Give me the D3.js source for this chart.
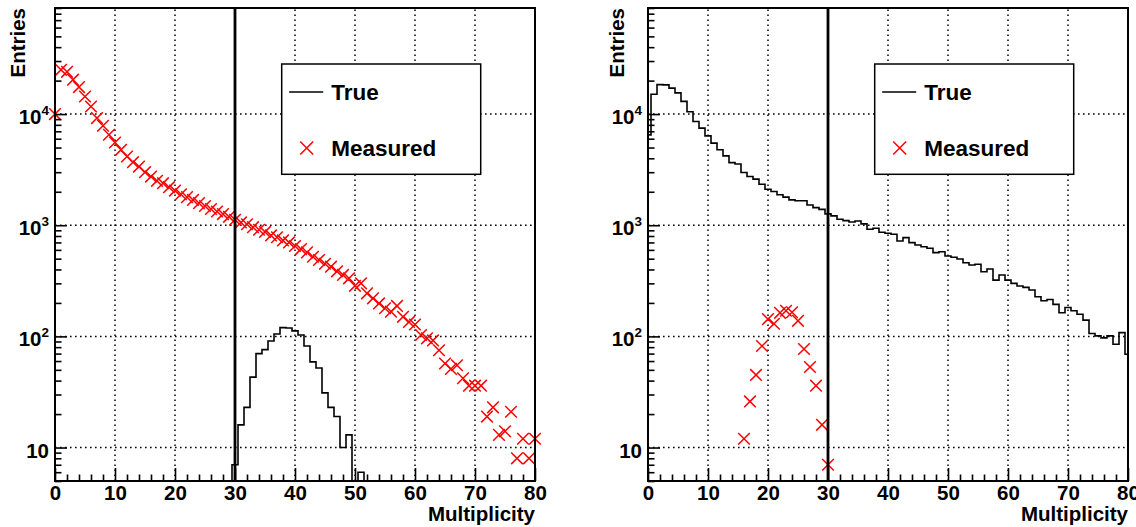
<!DOCTYPE html>
<html><head><meta charset="utf-8">
<script src="https://cdn.jsdelivr.net/npm/d3@7"></script>
<style>
body{margin:0;background:#fff;}
svg{display:block;}
text{font-family:"Liberation Sans",Arial,Helvetica,sans-serif;font-weight:bold;fill:#000;}
</style>
</head><body><svg id="c" width="1136" height="527"></svg>
<script>
// ---------- data (bin index = multiplicity 0..80) ----------
const leftMeasured = [10000,25000,24000,20400,17500,14400,11700,9200,7850,6510,
  5550,4770,4150,3690,3370,3000,2740,2510,2390,2200,
  2050,1900,1790,1690,1580,1490,1400,1330,1260,1190,
  1120,1060,1020,960,910,870,810,780,730,700,
  650,610,570,520,487,450,424,385,357,333,
  285,300,244,220,198,179,167,188,150,135,
  128,103,96,92,75,57,51,55,42,36,
  36,36,19,23,13,14,21,8,12,8,12];
const leftTrue = [0,0,0,0,0,0,0,0,0,0,
  0,0,0,0,0,0,0,0,0,0,
  0,0,0,0,0,0,0,0,0,0,
  7,16,23,43,70,76,91,105,120,119,
  112,103,82,59,52,31,23,19,10,13,
  0,6,0,0,0,0,0,0,0,0,
  0,0,0,0,0,0,0,0,0,0,
  0,0,0,0,0,0,0,0,0,0,0];
const rightTrue = [6500,15100,18400,18300,17100,15500,13000,10500,8580,7480,
  6370,5480,4770,4210,3660,3550,2980,2740,2600,2340,
  2110,2010,1880,1790,1690,1660,1660,1520,1440,1390,
  1265,1213,1132,1100,1070,1093,1028,920,940,865,
  847,830,722,773,697,664,641,620,567,578,
  529,515,497,460,439,445,382,404,321,357,
  321,300,284,276,261,227,209,215,194,163,
  182,170,158,140,106,101,97,101,85,108,69];
const rightMeasuredBins = [16,17,18,19,20,21,22,23,24,25,26,27,28,29,30];
const rightMeasured     = [12,26,45,82,143,130,163,170,165,138,77,53,36,16,7];

const xTickValues = [0,10,20,30,40,50,60,70,80];
const xTickLabels = ["0","10","20","30","40","50","60","70","80"];
const yTickValues = [10,100,1000,10000];
const yTickExponents = ["","2","3","4"];
const legendLabels = ["True","Measured"];
const xTitle = "Multiplicity", yTitle = "Entries";
const cutValue = 30;
const xDomain = [0,80], yDomain = [5,90000];

// ---------- drawing ----------
const svg = d3.select("#c");
const FS = 20.5;
const panels = [
  {x0:55, x1:535, yTitleX:25, measured: leftMeasured.map((v,i)=>({k:i,v})), trueH: leftTrue},
  {x0:648, x1:1128, yTitleX:624, measured: rightMeasuredBins.map((k,i)=>({k,v:rightMeasured[i]})), trueH: rightTrue}
];
const frameTop = 8, frameBottom = 481;

panels.forEach((p, pi) => {
  const x = d3.scaleLinear().domain(xDomain).range([p.x0, p.x1]);
  const y = d3.scaleLog().domain(yDomain).range([frameBottom, frameTop]);
  const g = svg.append("g");
  const clipId = "clip"+pi;
  svg.append("clipPath").attr("id", clipId).append("rect")
    .attr("x", p.x0).attr("y", frameTop).attr("width", p.x1-p.x0).attr("height", frameBottom-frameTop);

  // grid
  const grid = g.append("g").attr("stroke","#000").attr("stroke-width",1.5).attr("stroke-dasharray","1.6,3.4");
  grid.selectAll("line.gx").data(xTickValues.filter(v=>v>0)).join("line")
    .attr("x1", d=>x(d)).attr("x2", d=>x(d)).attr("y1", frameBottom).attr("y2", frameTop);
  grid.selectAll("line.gy").data(yTickValues).join("line")
    .attr("x1", p.x0).attr("x2", p.x1).attr("y1", d=>y(d)).attr("y2", d=>y(d));

  // true histogram (step)
  const pts = p.trueH.map((v,k)=>[k-0.5, v]);
  pts.push([p.trueH.length-0.5, p.trueH[p.trueH.length-1]]);
  const line = d3.line().curve(d3.curveStepAfter)
    .x(d=>x(d[0])).y(d=> d[1]>0 ? y(d[1]) : frameBottom+4);
  g.append("path").attr("d", line(pts)).attr("fill","none").attr("stroke","#000")
    .attr("stroke-width",1.6).attr("clip-path","url(#"+clipId+")");

  // measured markers
  const ms = 5.8;
  g.append("g").selectAll("path").data(p.measured.filter(d=>d.v>0)).join("path")
    .attr("transform", d=>`translate(${x(d.k)},${y(d.v)})`)
    .attr("d", `M${-ms},${-ms}L${ms},${ms}M${-ms},${ms}L${ms},${-ms}`)
    .attr("stroke","#ff0000").attr("stroke-width",1.5).attr("fill","none");

  // cut line
  g.append("line").attr("x1", x(cutValue)).attr("x2", x(cutValue)).attr("y1", frameTop).attr("y2", frameBottom)
    .attr("stroke","#000").attr("stroke-width",2.8);

  // axes ticks
  const minorX = d3.range(xDomain[0], xDomain[1]+0.1, 2).filter(v=>v%10!==0);
  const axMinX = g.append("g").attr("transform",`translate(0,${frameBottom})`)
    .call(d3.axisBottom(x).tickValues(minorX).tickSize(-6.5).tickFormat(""));
  const axX = g.append("g").attr("transform",`translate(0,${frameBottom})`)
    .call(d3.axisBottom(x).tickValues(xTickValues).tickSize(-13).tickPadding(4.5)
      .tickFormat((d,i)=>xTickLabels[i]));
  axX.selectAll("text").attr("font-size",FS).attr("fill","#000")
    .style("font-family",'"Liberation Sans",Arial,sans-serif').style("font-weight","bold");

  const minorY = y.ticks().filter(v=>!yTickValues.includes(v) && v>=yDomain[0] && v<=yDomain[1]);
  const axMinY = g.append("g").attr("transform",`translate(${p.x0},0)`)
    .call(d3.axisLeft(y).tickValues(minorY).tickSize(-6.5).tickFormat(""));
  const axY = g.append("g").attr("transform",`translate(${p.x0},0)`)
    .call(d3.axisLeft(y).tickValues(yTickValues).tickSize(-12).tickFormat(""));
  [axMinX, axX, axMinY, axY].forEach(a=>{
    a.select(".domain").remove();
    a.selectAll("line").attr("stroke","#000").attr("stroke-width",1.6);
  });

  // y tick labels with superscripts
  yTickValues.forEach((v,i)=>{
    const t = g.append("text").attr("x", p.x0-6).attr("y", y(v)+10)
      .attr("text-anchor","end").attr("font-size",FS).text("10");
    if (yTickExponents[i]) t.append("tspan").attr("dy",-9).attr("font-size",13.5).text(yTickExponents[i]);
  });

  // frame
  g.append("rect").attr("x",p.x0).attr("y",frameTop).attr("width",p.x1-p.x0).attr("height",frameBottom-frameTop)
    .attr("fill","none").attr("stroke","#000").attr("stroke-width",2);

  // titles
  g.append("text").attr("x",p.x1).attr("y",520.5).attr("text-anchor","end").attr("font-size",FS).text(xTitle);
  g.append("text").attr("transform",`translate(${p.yTitleX},${frameTop}) rotate(-90)`)
    .attr("text-anchor","end").attr("font-size",FS).text(yTitle);

  // legend
  const lx = p.x0 + 226.7;
  const leg = g.append("g");
  leg.append("rect").attr("x",lx).attr("y",64).attr("width",199).attr("height",110.3)
    .attr("fill","#fff").attr("stroke","#000").attr("stroke-width",1.5);
  leg.append("line").attr("x1",lx+7.5).attr("x2",lx+41.5).attr("y1",92).attr("y2",92)
    .attr("stroke","#000").attr("stroke-width",1.6);
  leg.append("text").attr("x",lx+49.5).attr("y",100).attr("font-size",22.5).text(legendLabels[0]);
  const lm = 6.5;
  leg.append("path").attr("transform",`translate(${lx+25},148)`)
    .attr("d",`M${-lm},${-lm}L${lm},${lm}M${-lm},${lm}L${lm},${-lm}`)
    .attr("stroke","#ff0000").attr("stroke-width",1.5);
  leg.append("text").attr("x",lx+49.5).attr("y",156).attr("font-size",22.5).text(legendLabels[1]);
});
</script>
</body></html>
